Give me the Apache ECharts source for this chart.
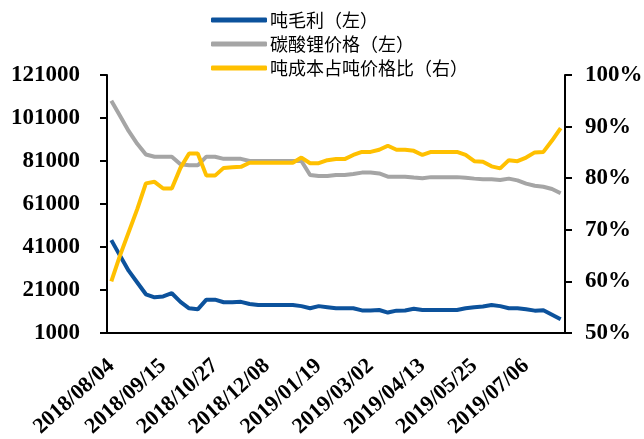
<!DOCTYPE html>
<html>
<head>
<meta charset="utf-8">
<script src="https://cdn.jsdelivr.net/npm/echarts@6/dist/echarts.min.js"></script>
<style>
  html, body { margin: 0; padding: 0; background: #fff; }
  #main { width: 644px; height: 439px; }
</style>
</head>
<body>
<div id="main"></div>
<script>
  // 周度日期
  const dates = [
    '2018/08/04', '2018/08/11', '2018/08/18', '2018/08/25', '2018/09/01', '2018/09/08',
    '2018/09/15', '2018/09/22', '2018/09/29', '2018/10/06', '2018/10/13', '2018/10/20',
    '2018/10/27', '2018/11/03', '2018/11/10', '2018/11/17', '2018/11/24', '2018/12/01',
    '2018/12/08', '2018/12/15', '2018/12/22', '2018/12/29', '2019/01/05', '2019/01/12',
    '2019/01/19', '2019/01/26', '2019/02/02', '2019/02/09', '2019/02/16', '2019/02/23',
    '2019/03/02', '2019/03/09', '2019/03/16', '2019/03/23', '2019/03/30', '2019/04/06',
    '2019/04/13', '2019/04/20', '2019/04/27', '2019/05/04', '2019/05/11', '2019/05/18',
    '2019/05/25', '2019/06/01', '2019/06/08', '2019/06/15', '2019/06/22', '2019/06/29',
    '2019/07/06', '2019/07/13', '2019/07/20', '2019/07/27', '2019/08/03'
  ];

  // 吨毛利（左）
  const grossProfit = [
    44200, 37000, 30000, 24500, 19000, 17600, 18000, 19500, 15500, 12500, 12000, 16500,
    16500, 15300, 15300, 15500, 14500, 14000, 14000, 14000, 14000, 14000, 13500, 12500,
    13500, 13000, 12500, 12500, 12500, 11500, 11500, 11700, 10500, 11400, 11500, 12300,
    11700, 11700, 11700, 11700, 11700, 12500, 13000, 13300, 14000, 13500, 12500, 12500,
    12000, 11400, 11600, 9500, 7400
  ];

  // 碳酸锂价格（左）
  const lithiumPrice = [
    109000, 102000, 95000, 89000, 84000, 83000, 83000, 83000, 79500, 79000, 79000, 83000,
    83000, 82000, 82000, 82000, 81000, 81000, 81000, 81000, 81000, 81000, 81000, 74500,
    74000, 74000, 74500, 74500, 75000, 75600, 75600, 75200, 73700, 73700, 73700, 73300,
    73000, 73500, 73500, 73500, 73500, 73200, 72800, 72500, 72500, 72200, 72800, 72000,
    70500, 69500, 69000, 68000, 66000
  ];

  // 吨成本占吨价格比（右），单位 %
  const costRatio = [
    60.0, 65.0, 69.5, 74.0, 79.0, 79.3, 78.0, 78.0, 82.0, 84.8, 84.8, 80.5,
    80.5, 82.0, 82.1, 82.2, 83.0, 83.0, 83.0, 83.0, 83.0, 83.0, 84.0, 82.9,
    82.9, 83.5, 83.7, 83.7, 84.5, 85.1, 85.1, 85.5, 86.3, 85.5, 85.5, 85.3,
    84.5, 85.1, 85.1, 85.1, 85.1, 84.5, 83.3, 83.2, 82.3, 81.9, 83.5, 83.3,
    84.0, 85.0, 85.1, 87.3, 89.7
  ];

  const seriesNames = ['吨毛利（左）', '碳酸锂价格（左）', '吨成本占吨价格比（右）'];
  const colors = ['#0C529C', '#A5A5A5', '#FFC000'];

  const numFont = 'Liberation Serif';

  var myChart = echarts.init(document.getElementById('main'));
  let option = {
    animation: false,
    legend: {
      orient: 'vertical',
      left: 206,
      top: 6,
      itemWidth: 56,
      itemHeight: 5,
      itemGap: 6,
      icon: 'roundRect',
      textStyle: {
        fontFamily: 'Noto Sans CJK SC',
        fontSize: 18,
        color: '#000',
        padding: [0, 0, 0, -2]
      },
      data: seriesNames
    },
    grid: {
      left: 107,
      right: 79,
      top: 75,
      bottom: 106,
      containLabel: false,
      outerBoundsMode: 'none'
    },
    xAxis: {
      type: 'category',
      boundaryGap: true,
      data: dates,
      axisLine: { lineStyle: { color: '#000', width: 2 } },
      axisTick: {
        alignWithLabel: true,
        length: 6,
        lineStyle: { color: '#000', width: 2 },
        interval: function (index) { return index === 30; }
      },
      axisLabel: {
        interval: 5,
        rotate: 42,
        margin: 30,
        color: '#000',
        fontFamily: numFont,
        fontWeight: 'bold',
        fontSize: 22
      }
    },
    yAxis: [
      {
        type: 'value',
        min: 1000,
        max: 121000,
        interval: 20000,
        splitLine: { show: false },
        axisLine: { show: true, lineStyle: { color: '#000', width: 2 } },
        axisTick: { show: true, length: 7, lineStyle: { color: '#000', width: 2 } },
        axisLabel: {
          margin: 27,
          color: '#000',
          fontFamily: numFont,
          fontWeight: 'bold',
          fontSize: 23,
          formatter: function (v) { return String(v); }
        }
      },
      {
        type: 'value',
        min: 50,
        max: 100,
        interval: 10,
        splitLine: { show: false },
        axisLine: { show: true, lineStyle: { color: '#000', width: 2 } },
        axisTick: { show: true, length: 7, lineStyle: { color: '#000', width: 2 } },
        axisLabel: {
          margin: 20,
          color: '#000',
          fontFamily: numFont,
          fontWeight: 'bold',
          fontSize: 23,
          formatter: '{value}%'
        }
      }
    ],
    series: [
      {
        name: seriesNames[0],
        type: 'line',
        yAxisIndex: 0,
        data: grossProfit,
        showSymbol: false,
        smooth: false,
        itemStyle: { color: colors[0] },
        lineStyle: { color: colors[0], width: 4 }
      },
      {
        name: seriesNames[1],
        type: 'line',
        yAxisIndex: 0,
        data: lithiumPrice,
        showSymbol: false,
        smooth: false,
        itemStyle: { color: colors[1] },
        lineStyle: { color: colors[1], width: 4 }
      },
      {
        name: seriesNames[2],
        type: 'line',
        yAxisIndex: 1,
        data: costRatio,
        showSymbol: false,
        smooth: false,
        itemStyle: { color: colors[2] },
        lineStyle: { color: colors[2], width: 4 }
      }
    ]
  };
  myChart.setOption(option);
</script>
</body>
</html>
